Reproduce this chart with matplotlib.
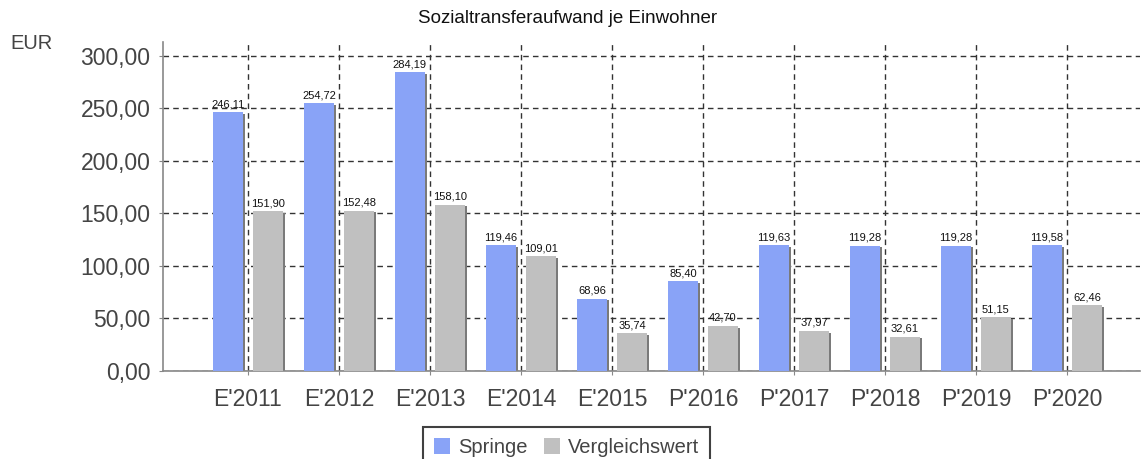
import numpy as np
import matplotlib.pyplot as plt

# Daten
kategorien = ["E'2011", "E'2012", "E'2013", "E'2014", "E'2015",
              "P'2016", "P'2017", "P'2018", "P'2019", "P'2020"]
springe = [246.11, 254.72, 284.19, 119.46, 68.96, 85.40, 119.63, 119.28, 119.28, 119.58]
vergleich = [151.90, 152.48, 158.10, 109.01, 35.74, 42.70, 37.97, 32.61, 51.15, 62.46]
y_ticks = [0, 50, 100, 150, 200, 250, 300]

def de(v):
    return f"{v:.2f}".replace(".", ",")

fig = plt.figure(figsize=(11.42, 4.59), dpi=100)
ax = fig.add_axes([0.1427, 0.1917, 0.8553, 0.7168])

x = np.arange(len(kategorien))
w = 0.33
off = 0.22
sx = 0.025

# Schatten
ax.bar(x - off + sx, np.array(springe) - 1.5, w, color="#7a7a7a", zorder=2)
ax.bar(x + off + sx, np.array(vergleich) - 1.5, w, color="#7a7a7a", zorder=2)
b1 = ax.bar(x - off, springe, w, color="#89a3f7", zorder=3, label="Springe")
b2 = ax.bar(x + off, vergleich, w, color="#c0c0c0", zorder=3, label="Vergleichswert")

for xi, v in zip(x, springe):
    ax.text(xi - off, v + 3, de(v), ha="center", va="bottom", fontsize=8,
            family="Liberation Sans", color="#111111", zorder=5)
for xi, v in zip(x, vergleich):
    ax.text(xi + off, v + 3, de(v), ha="center", va="bottom", fontsize=8,
            family="Liberation Sans", color="#111111", zorder=5)

ax.set_xlim(-0.934, 9.80)
ax.set_ylim(0, 313)
ax.set_xticks(x)
ax.set_xticklabels(kategorien, family="Liberation Sans")
ax.set_yticks(y_ticks)
ax.set_yticklabels([de(v) for v in y_ticks], family="Liberation Sans")
ax.tick_params(axis="both", labelsize=16.5, colors="#444444", length=3, color="#888888")
ax.tick_params(axis="x", pad=9)
ax.tick_params(axis="y", pad=6)

ax.grid(True, linestyle=(0, (4, 3)), color="#333333", linewidth=1, zorder=1)
ax.set_axisbelow(True)
for s in ["top", "right"]:
    ax.spines[s].set_visible(False)
for s in ["left", "bottom"]:
    ax.spines[s].set_color("#888888")
    ax.spines[s].set_linewidth(1.2)

fig.text(0.497, 0.960, "Sozialtransferaufwand je Einwohner", ha="center", va="center",
         fontsize=13.5, family="Liberation Sans", color="#111111")
fig.text(0.009, 0.905, "EUR", ha="left", va="center", fontsize=14.5,
         family="Liberation Sans", color="#444444")

leg = fig.legend(handles=[b1, b2], loc="upper center", bbox_to_anchor=(0.496, 0.070),
                 ncol=2, frameon=True, fancybox=False, borderaxespad=0,
                 prop={"family": "Liberation Sans", "size": 14.5},
                 handlelength=0.8, handleheight=0.8, handletextpad=0.4,
                 columnspacing=0.8, borderpad=0.55, labelcolor="#444444")
leg.get_frame().set_edgecolor("#111111")
leg.get_frame().set_linewidth(1.5)

fig.savefig("out.png", dpi=100)
